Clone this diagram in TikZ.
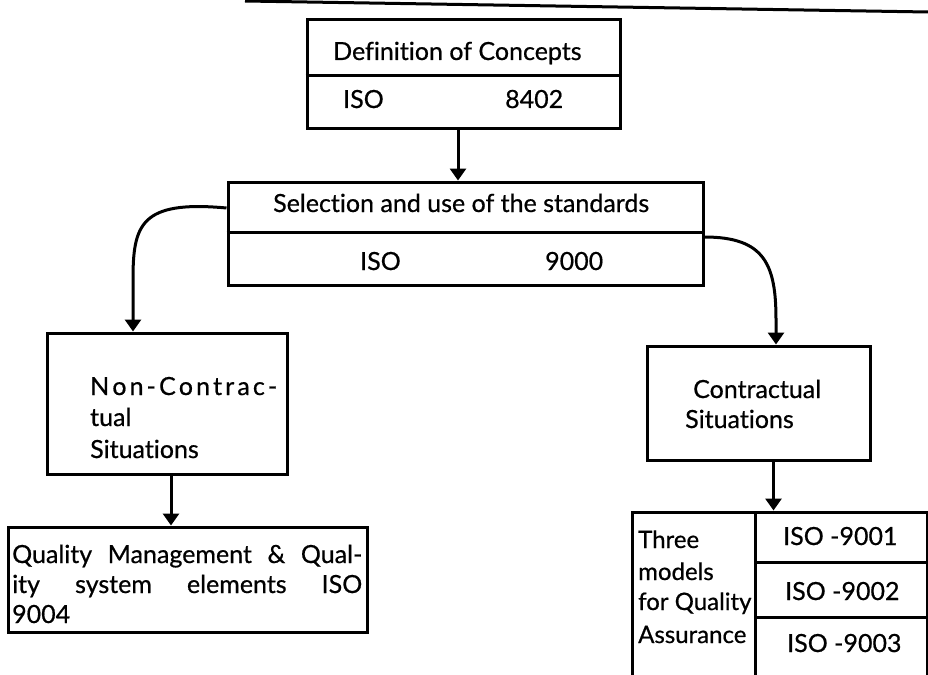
\documentclass[tikz,border=0pt]{standalone}
\usepackage{fontspec}
\setmainfont{Lato}[Ligatures=NoCommon, FakeBold=0.6]
\usetikzlibrary{arrows.meta}
\begin{document}
\begin{tikzpicture}[x=1pt,y=1pt,
  box/.style={draw, line width=3pt, rectangle, inner sep=0pt},
  rule/.style={line width=3pt},
  txt/.style={inner sep=0pt, anchor=base west, font=\fontsize{25}{30}\selectfont},
  stxt/.style={inner sep=0pt, anchor=base west, font=\fontsize{24}{30}\selectfont},
  conn/.style={line width=3pt, -{Triangle[length=12pt,width=16pt]}}]
\useasboundingbox (0,0) rectangle (928,-674);
\fill[white] (0,0) rectangle (928,-674);

% top page rule
\coordinate (ruleA) at (245,-1);
\coordinate (ruleB) at (928,-12);
\draw[line width=3pt] (ruleA) -- (ruleB);

% Definition of Concepts: x 307-620, y 20-128
\node[box, minimum width=313pt, minimum height=108pt] (def) at (463.5,-74) {};
\draw[rule] (def.west |- 0,-76) -- (def.east |- 0,-76);
\node[txt] (defT) at (333,-60) {Definition of Concepts};
\node[txt] (defA) at (343,-108) {ISO};
\node[txt] (defB) at (505,-108) {8402};

% Selection and use: x 228-703, y 182-285
\node[box, minimum width=475pt, minimum height=103pt] (sel) at (465.5,-233.5) {};
\draw[rule] (sel.west |- 0,-232) -- (sel.east |- 0,-232);
\node[txt] (selT) at (273,-212) {Selection and use of the standards};
\node[txt] (selA) at (360,-270) {ISO};
\node[txt] (selB) at (545,-270) {9000};

% Non-Contractual: x 47-287, y 333-474
\node[box, minimum width=240pt, minimum height=141pt] (non) at (167,-403.5) {};
\node[txt] (nonA) at (90,-395)
  {\makebox[187pt][s]{N\hfill o\hfill n\hfill -\hfill C\hfill o\hfill n\hfill t\hfill r\hfill a\hfill c\hfill -}};
\node[txt] (nonB) at (90,-426) {tual};
\node[txt] (nonC) at (90,-458) {Situations};

% Quality Management: x 8-367, y 527-632
\node[box, minimum width=359pt, minimum height=105pt] (qual) at (187.5,-579.5) {};
\node[txt] (qualA) at (12,-563) {\makebox[350pt][s]{Quality Management \& Qual-}};
\node[txt] (qualB) at (12,-593) {\makebox[350pt][s]{ity system elements ISO}};
\node[txt] (qualC) at (12,-623) {9004};

% Contractual: x 647-870, y 346-460
\node[box, minimum width=223pt, minimum height=114pt] (con) at (758.5,-403) {};
\node[txt] (conA) at (693,-398) {Contractual};
\node[txt] (conB) at (685,-428) {Situations};

% Three models: x 632-927, y 512-
\node[box, minimum width=295pt, minimum height=172pt] (mod) at (779.5,-598) {};
\coordinate (vTop) at (755,-512);
\coordinate (vBot) at (755,-684);
\draw[rule] (vTop) -- (vBot);
\draw[rule] (755,-562) -- (mod.east |- 0,-562);
\draw[rule] (755,-617) -- (mod.east |- 0,-617);
\node[stxt] (modA) at (638,-548) {Three};
\node[stxt] (modB) at (638,-580) {models};
\node[stxt] (modC) at (638,-610) {for Quality};
\node[stxt] (modD) at (638,-643) {Assurance};
\node[txt] (m1) at (783,-545) {ISO -9001};
\node[txt] (m2) at (785,-600) {ISO -9002};
\node[txt] (m3) at (787,-652) {ISO -9003};

% connectors
\draw[conn] ([xshift=-5.5pt]def.south) -- ([xshift=-5.5pt]def.south |- sel.north);
\draw[conn] ([yshift=25.5pt]sel.west) .. controls (140,-200) and (133,-225) .. (133,-280) -- ([xshift=-34pt]non.north);
\draw[conn] ([yshift=-3.5pt]sel.east) .. controls (765,-237) and (776,-265) .. (776,-320) -- ([xshift=17.5pt]con.north);
\draw[conn] ([xshift=4pt]non.south) -- ([xshift=4pt]non.south |- qual.north);
\draw[conn] ([xshift=15pt]con.south) -- ([xshift=15pt]con.south |- mod.north);
\end{tikzpicture}
\end{document}
